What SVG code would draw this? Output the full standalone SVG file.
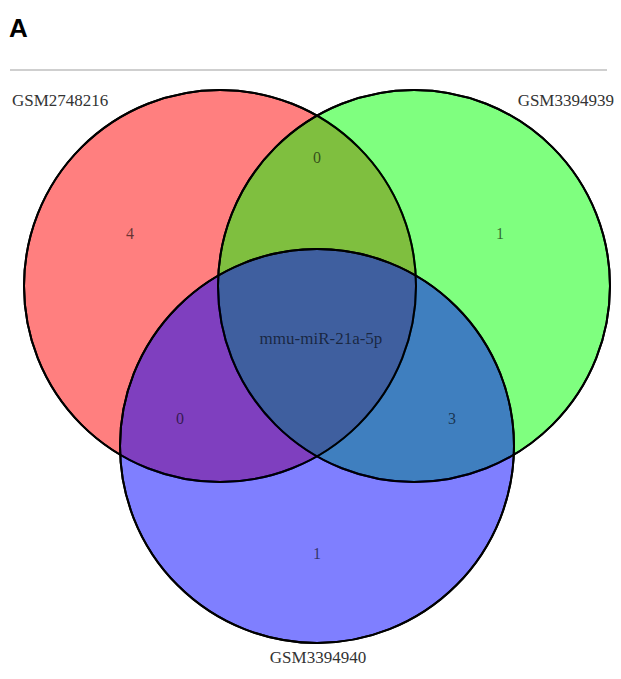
<svg xmlns="http://www.w3.org/2000/svg" width="621" height="679" viewBox="0 0 621 679">
<style>
.set{stroke:#000;stroke-width:2;fill-opacity:0.5}
.lab{font-family:"Liberation Serif","Times New Roman",serif;font-size:17px;fill:#333}
.num{font-family:"Liberation Serif","Times New Roman",serif;font-size:16px;fill:#000;fill-opacity:0.6;text-anchor:middle}
</style>
<rect width="621" height="679" fill="#fff"/>
<text x="9" y="37" font-family="Liberation Sans, Arial, sans-serif" font-weight="bold" font-size="26" fill="#000">A</text>
<line x1="10" y1="70" x2="607" y2="70" stroke="#cfcfcf" stroke-width="2"/>
<g id="set-GSM2748216">
<circle class="set" cx="220" cy="286" r="196" fill="#ff0000"/>
</g>
<g id="set-GSM3394939">
<circle class="set" cx="414" cy="286" r="196" fill="#00ff00"/>
</g>
<g id="set-GSM3394940">
<circle class="set" cx="317" cy="446" r="197" fill="#0000ff"/>
</g>
<g id="outlines" fill="none" stroke="#000" stroke-width="2">
<circle cx="220" cy="286" r="196"/>
<circle cx="414" cy="286" r="196"/>
<circle cx="317" cy="446" r="197"/>
</g>
<g id="labels">
<text class="lab" x="12" y="106">GSM2748216</text>
<text class="lab" x="614" y="106" text-anchor="end">GSM3394939</text>
<text class="lab" x="318" y="663" text-anchor="middle">GSM3394940</text>
</g>
<g id="counts">
<text class="num" x="130" y="239">4</text>
<text class="num" x="317" y="163">0</text>
<text class="num" x="500" y="239">1</text>
<text class="num" x="321" y="344" style="font-size:17px">mmu-miR-21a-5p</text>
<text class="num" x="180" y="424">0</text>
<text class="num" x="452" y="424">3</text>
<text class="num" x="317" y="559">1</text>
</g>
</svg>
